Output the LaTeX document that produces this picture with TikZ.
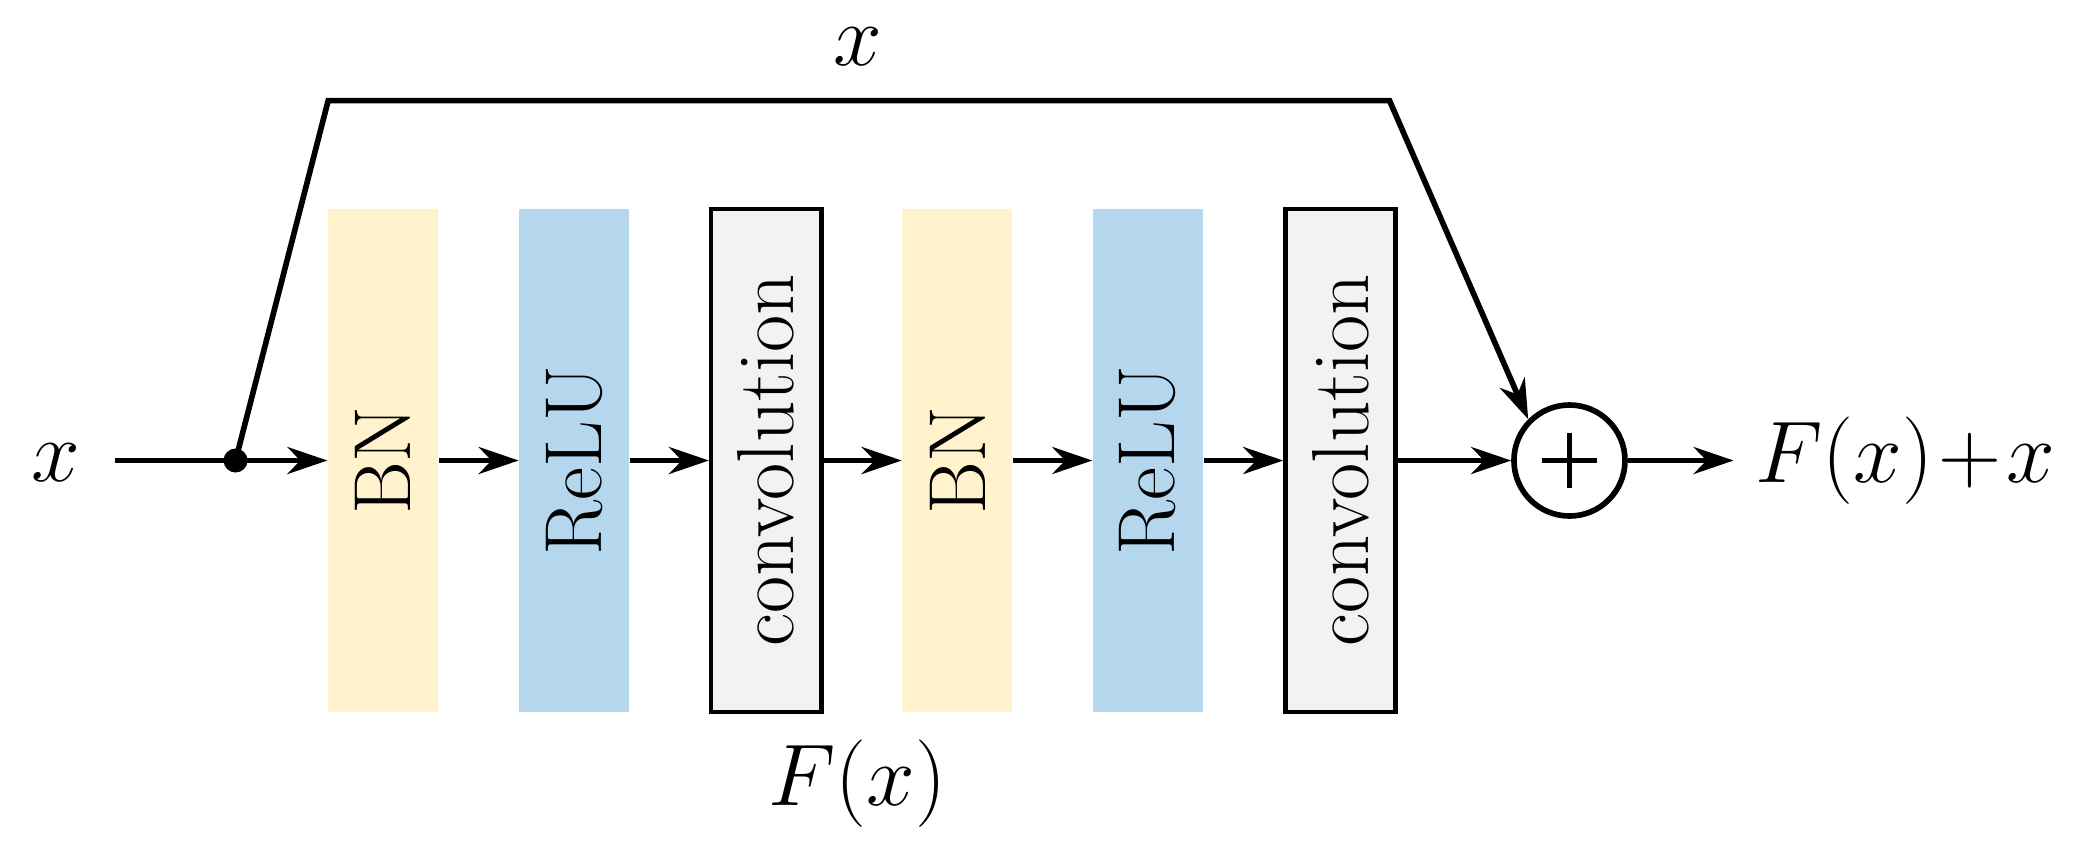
\documentclass[tikz,border=0pt]{standalone}
\usetikzlibrary{arrows.meta}
\definecolor{bnc}{HTML}{FFF2CC}
\definecolor{reluc}{HTML}{B4D7EE}
\definecolor{convc}{HTML}{F2F2F2}
\begin{document}
\begin{tikzpicture}[x=0.01323cm,y=-0.01323cm,
  blk/.style={minimum width=1.1cm,minimum height=5.03cm,inner sep=0pt},
  lbl/.style={rotate=90,font=\fontsize{23}{25}\selectfont},
  ar/.style={-{Stealth[length=0.4cm,width=0.27cm]},line width=1.6pt},
  ln/.style={line width=1.6pt}]
\useasboundingbox (0,0) rectangle (1568,651.4);
\node[blk,fill=bnc] (bn1) at (289.5,348) {};
\node[lbl] at (bn1) {BN};
\node[blk,fill=reluc] (re1) at (434,348) {};
\node[lbl] at (re1) {ReLU};
\node[blk,fill=convc,draw,line width=1.3pt] (cv1) at (579,348) {};
\node[lbl] at (cv1) {convolution};
\node[blk,fill=bnc] (bn2) at (723.5,348) {};
\node[lbl] at (bn2) {BN};
\node[blk,fill=reluc] (re2) at (867.5,348) {};
\node[lbl] at (re2) {ReLU};
\node[blk,fill=convc,draw,line width=1.3pt] (cv2) at (1013,348) {};
\node[lbl] at (cv2) {convolution};
\node[circle,draw,line width=1.6pt,minimum size=1.11cm,inner sep=0pt] (sum) at (1186,348) {};
\draw[line width=1.6pt] (1165,348) -- (1207,348) (1186,327) -- (1186,369);
\node (xin) at (42,350) {\fontsize{30}{32}\selectfont$x$};
\node (xtop) at (648,35) {\fontsize{30}{32}\selectfont$x$};
\node (fx) at (648,592) {\fontsize{34}{36}\selectfont$F(x)$};
\node[anchor=west,inner sep=0pt] (out) at (1326,348) {\fontsize{27}{29}\selectfont$F(x)\!+\!x$};
\coordinate (st) at (87,348);
\coordinate (dot) at (178,348);
\coordinate (c1) at (248,76);
\coordinate (c2) at (1050,76);
\coordinate (oe) at (1310,348);
\draw[ln] (st) -- (dot);
\draw[ar] (dot) -- (bn1.west);
\fill (dot) circle (0.12cm);
\draw[ar] (bn1.east) -- (re1.west);
\draw[ar] (re1.east) -- (cv1.west);
\draw[ar] (cv1.east) -- (bn2.west);
\draw[ar] (bn2.east) -- (re2.west);
\draw[ar] (re2.east) -- (cv2.west);
\draw[ar] (cv2.east) -- (sum.west);
\draw[ar] (dot) -- (c1) -- (c2) -- (sum.north west);
\draw[ar] (sum.east) -- (oe);
\end{tikzpicture}
\end{document}
